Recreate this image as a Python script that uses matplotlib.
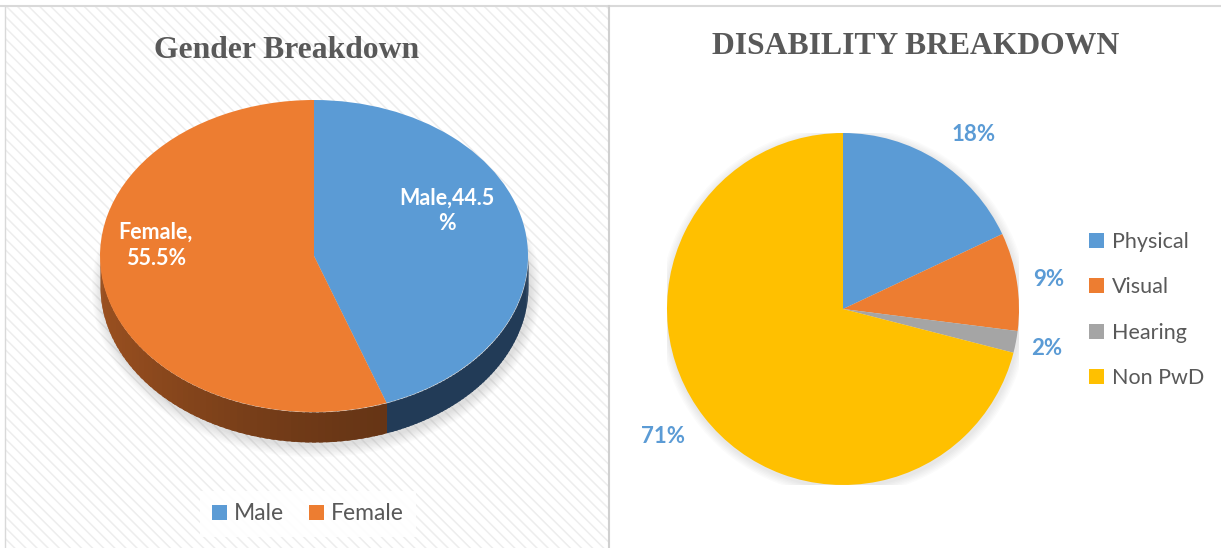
import numpy as np
import matplotlib
matplotlib.use("Agg")
import matplotlib.pyplot as plt
from matplotlib.patches import Rectangle, Ellipse, Circle

plt.rcParams["hatch.linewidth"] = 1.1

# data
gender_labels = ["Male", "Female"]
gender_values = [44.5, 55.5]
gender_colors = ["#5B9BD5", "#ED7D31"]
gender_side = ["#223B57", "#6A3716"]

dis_labels = ["Physical", "Visual", "Hearing", "Non PwD"]
dis_values = [18, 9, 2, 71]
dis_colors = ["#5B9BD5", "#ED7D31", "#A5A5A5", "#FFC000"]

W, H = 1221, 548
fig = plt.figure(figsize=(W / 100, H / 100), dpi=100)


def px_axes(x0, y0, x1, y1):
    # axes from pixel box (top-left origin)
    return fig.add_axes([x0 / W, 1 - y1 / H, (x1 - x0) / W, (y1 - y0) / H])


# background / panels
bg = fig.add_axes([0, 0, 1, 1])
bg.set_xlim(0, W)
bg.set_ylim(H, 0)
bg.axis("off")
bg.add_patch(Rectangle((5, 7), 604, 545, facecolor="white",
                       edgecolor="#EDEDED", hatch="\\\\\\", linewidth=0))
bg.plot([0, W], [6, 6], color="#D9D9D9", lw=1.5)
bg.plot([5, 5], [6, H], color="#D9D9D9", lw=1)
bg.plot([609, 609], [6, H], color="#D0D0D0", lw=1.5)
bg.text(287, 50, "Gender Breakdown", ha="center", va="center",
        family="Liberation Serif", weight="bold", fontsize=22.8, color="#595959")
bg.text(916, 47, "DISABILITY BREAKDOWN", ha="center", va="center",
        family="Liberation Serif", weight="bold", fontsize=22.8, color="#595959")

# ---- left: tilted 3D-ish pie
cx, cy, a, b, depth = 314, 256, 214, 156, 30
ax1 = px_axes(cx - a, cy - b, cx + a, cy + b + depth)
d = depth / b

# soft shadow under the pie
for k in range(8):
    g = 0.006 * (k + 1)
    ax1.add_patch(Ellipse((0.01, -d - 0.02), 2 * (1 + g), 2 * (1 + 1.6 * g),
                          color="gray", alpha=0.03, lw=0, clip_on=False))

# sides of wedges on the front half
start = 90.0
for val, col in zip(gender_values, gender_side):
    end = start - val / 100 * 360
    base = np.array(matplotlib.colors.to_rgb(col))
    for shift in (0, 360):
        l, h = max(end + shift, -180), min(start + shift, 0)
        if h <= l:
            continue
        edges = np.linspace(l, h, 60)
        step = edges[1] - edges[0]
        for i in range(len(edges) - 1):
            t = np.radians(np.linspace(edges[i], min(edges[i + 1] + step * 0.6, h), 6))
            frac = (np.cos(t).mean() + 1) / 2
            if col == gender_side[1]:
                c = base * (0.9 + 0.55 * (1 - frac) ** 2)
            else:
                c = base
            c = np.clip(c, 0, 1)
            ax1.fill_between(np.cos(t), np.sin(t) - d, np.sin(t), color=c, lw=0)
    start = end

wedges, _ = ax1.pie(gender_values, colors=gender_colors, startangle=90,
                    counterclock=False, radius=1,
                    wedgeprops=dict(linewidth=0))
ax1.set_aspect("auto")
ax1.set_xlim(-1, 1)
ax1.set_ylim(-1 - d, 1)
ax1.axis("off")

lab_font = dict(family="Lato", weight="bold", fontsize=15.5, color="white",
                ha="center", va="center", linespacing=1.3)
ax1.text(0.62, 0.29, f"{gender_labels[0]},{gender_values[0]}\n%", **lab_font)
ax1.text(-0.74, 0.07, f"{gender_labels[1]},\n{gender_values[1]}%", **lab_font)

leg1 = bg.legend(wedges, gender_labels, loc="center", bbox_to_anchor=(308, 514),
                 bbox_transform=bg.transData, ncol=2, frameon=True,
                 facecolor="white", edgecolor="none", framealpha=0.9,
                 prop=dict(family="Lato", size=16.5), labelcolor="#595959",
                 handlelength=0.65, handleheight=0.65, handletextpad=0.3,
                 columnspacing=1.1, borderpad=0.55, fancybox=False)
bg.add_artist(leg1)

# ---- right: flat pie
rcx, rcy, r = 843, 309, 176
ax2 = px_axes(rcx - r, rcy - r, rcx + r, rcy + r)
for k in range(6):
    g = 1 + 0.008 * (k + 1)
    ax2.add_patch(Circle((0.005, -0.012), g, color="gray", alpha=0.03, lw=0))
w2, _, autotexts = ax2.pie(dis_values, colors=dis_colors, startangle=90,
                           counterclock=False, radius=1, autopct="%.0f%%",
                           pctdistance=1.22, wedgeprops=dict(linewidth=0))
# label placement as in the original (best-fit outside end)
label_pos = [(0.74, 0.99), (1.17, 0.165), (1.16, -0.227), (-1.02, -0.727)]
for t, p in zip(autotexts, label_pos):
    t.set_position(p)
    t.set_color("#5B9BD5")
    t.set_fontweight("bold")
    t.set_family("Lato")
    t.set_fontsize(16)
ax2.set_xlim(-1, 1)
ax2.set_ylim(-1, 1)
ax2.axis("off")

bg.legend(w2, dis_labels, loc="center left", bbox_to_anchor=(1070, 310),
          bbox_transform=bg.transData, frameon=False,
          prop=dict(family="Lato", size=15.5), labelcolor="#595959",
          handlelength=0.7, handleheight=0.7, handletextpad=0.35,
          labelspacing=1.17)

fig.savefig("out.png", dpi=100)
